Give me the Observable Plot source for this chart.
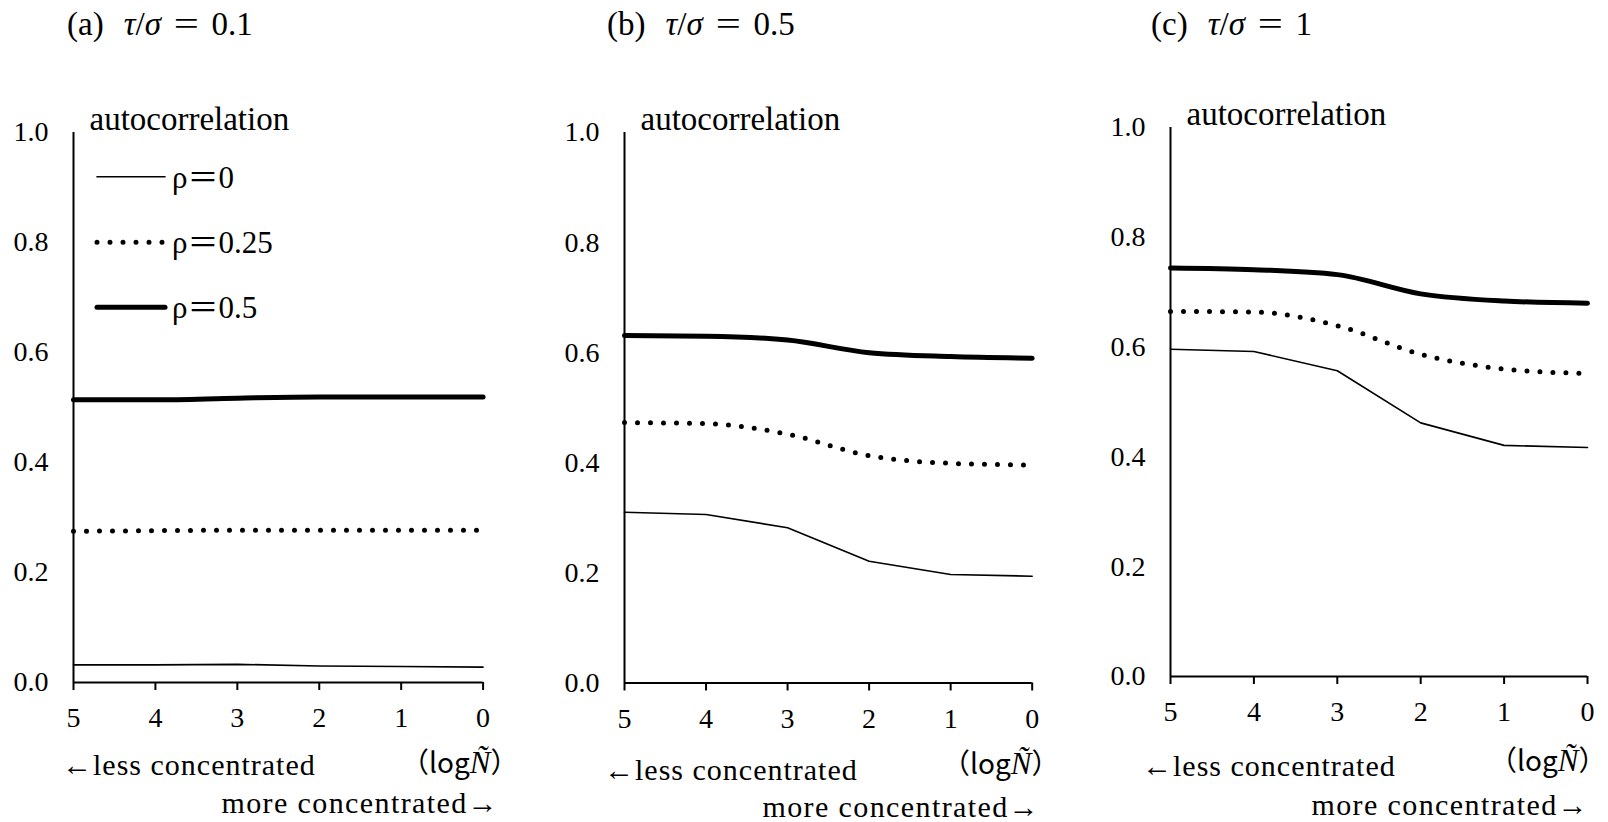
<!DOCTYPE html>
<html>
<head>
<meta charset="utf-8">
<script src="https://cdn.jsdelivr.net/npm/d3@7"></script>
<script src="https://cdn.jsdelivr.net/npm/@observablehq/plot@0.6"></script>
<style>
  html, body { margin: 0; padding: 0; background: #fff; }
  #root { position: relative; width: 1608px; height: 822px; overflow: hidden; background: #fff; color: #000;
          font-family: "Liberation Serif", "Noto Sans CJK JP", serif; }
  .abs { position: absolute; white-space: nowrap; line-height: 1; transform: translateY(-50%); }
  .title { font-size: 33px; }
  .title span { display: inline-block; }
  .note { font-size: 30px; letter-spacing: 1px; }
  .note.more { letter-spacing: 1.4px; }
  .logn { font-family: "Noto Sans CJK JP", "Noto Sans", sans-serif; font-size: 28px; }
  .logn i { font-family: "Liberation Serif", serif; font-size: 31px; }
  .panel { position: absolute; }
</style>
</head>
<body>
<div id="root"></div>
<script>
// ---- data ----
const logN = [5, 4, 3, 2, 1, 0];
const yTicks = [0, 0.2, 0.4, 0.6, 0.8, 1.0];
const seriesNames = ["ρ＝0", "ρ＝0.25", "ρ＝0.5"];
const panelTitles = ["(a)", "(b)", "(c)"];
const tauSigma = ["0.1", "0.5", "1"];

const panelA_rho0   = [0.032, 0.032, 0.033, 0.030, 0.029, 0.028];
const panelA_rho025 = [0.275, 0.276, 0.277, 0.277, 0.277, 0.277];
const panelA_rho05  = [0.514, 0.514, 0.517, 0.519, 0.519, 0.519];

const panelB_rho0   = [0.310, 0.306, 0.282, 0.221, 0.197, 0.194];
const panelB_rho025 = [0.473, 0.471, 0.452, 0.413, 0.399, 0.396];
const panelB_rho05  = [0.631, 0.630, 0.623, 0.600, 0.593, 0.590];

const panelC_rho0   = [0.596, 0.592, 0.557, 0.462, 0.421, 0.417];
const panelC_rho025 = [0.665, 0.664, 0.639, 0.587, 0.560, 0.552];
const panelC_rho05  = [0.744, 0.741, 0.732, 0.697, 0.684, 0.680];

const panelSeries = [
  [panelA_rho0, panelA_rho025, panelA_rho05],
  [panelB_rho0, panelB_rho025, panelB_rho05],
  [panelC_rho0, panelC_rho025, panelC_rho05]
];

// ---- layout (page pixels) ----
const layout = [
  {x0: 72.7,  x1: 482.3,  yTop: 131.7, yBot: 681.7, mr: 40, titleX: 67,   less: [62, 765],  logn: [417, 762], more: [499, 803]},
  {x0: 624.3, x1: 1032,   yTop: 132,   yBot: 682.5, mr: 40, titleX: 607,  less: [604, 770], logn: [958, 763], more: [1040, 807]},
  {x0: 1170.3,x1: 1587.3, yTop: 127,   yBot: 676,   mr: 20, titleX: 1151, less: [1142, 766],logn: [1505, 760], more: [1589, 805]}
];
const ML = 72, MT = 40, MB = 60;
const serif = "'Liberation Serif', 'Noto Sans CJK JP', serif";

const root = document.getElementById("root");

function addText(cls, html, left, top, right) {
  const d = document.createElement("div");
  d.className = "abs " + cls;
  d.innerHTML = html;
  d.style.top = top + "px";
  d.style.left = left + "px";
  if (right) d.style.transform = "translate(-100%, -50%)";
  root.appendChild(d);
  return d;
}

layout.forEach((L, i) => {
  const [s0, s25, s5] = panelSeries[i];
  const d0 = logN.map((x, k) => ({x, y: s0[k]}));
  const d25 = logN.map((x, k) => ({x, y: s25[k]}));
  const d5 = logN.map((x, k) => ({x, y: s5[k]}));
  const innerW = L.x1 - L.x0, innerH = L.yBot - L.yTop;
  const chart = Plot.plot({
    width: ML + innerW + L.mr,
    height: MT + innerH + MB,
    marginLeft: ML, marginRight: L.mr, marginTop: MT, marginBottom: MB,
    x: {domain: [5, 0]},
    y: {domain: [0, 1]},
    style: {fontFamily: serif, fontSize: "28px", color: "#000", background: "transparent", overflow: "visible"},
    marks: [
      Plot.axisY(yTicks, {tickSize: 0, tickPadding: 25, tickFormat: d => d.toFixed(1), fontSize: 28, label: null}),
      Plot.axisX(logN, {tickSize: 8, tickPadding: 17, strokeWidth: 2, fontSize: 28, label: null}),
      Plot.ruleX([5], {strokeWidth: 2}),
      Plot.ruleY([0], {strokeWidth: 2}),
      Plot.line(d0, {x: "x", y: "y", stroke: "#000", strokeWidth: 1.6}),
      Plot.line(d25, {x: "x", y: "y", stroke: "#000", strokeWidth: 5, strokeDasharray: "0 13", strokeLinecap: "round", curve: "monotone-x"}),
      Plot.line(d5, {x: "x", y: "y", stroke: "#000", strokeWidth: 5, curve: "monotone-x"}),
      Plot.text(["autocorrelation"], {frameAnchor: "top-left", dx: 16, dy: -13, textAnchor: "start", lineAnchor: "middle", fontSize: 33})
    ]
  });
  const wrap = document.createElement("div");
  wrap.className = "panel";
  wrap.style.left = (L.x0 - ML) + "px";
  wrap.style.top = (L.yTop - MT) + "px";
  wrap.appendChild(chart);
  root.appendChild(wrap);

  addText("title",
    `<span>${panelTitles[i]}</span><span style="margin-left:20px"><i>τ</i>/<i>σ</i></span>` +
    `<span style="margin-left:16px;transform:scaleX(1.35)">=</span><span style="margin-left:16px">${tauSigma[i]}</span>`,
    L.titleX, 24);
  addText("note", "←less concentrated", L.less[0], L.less[1]);
  addText("logn", "（log<i>N&#x0303;</i>）", L.logn[0] - 16, L.logn[1]);
  addText("note more", "more concentrated→", L.more[0], L.more[1], true);
});

// ---- legend in panel (a) ----
const legendItems = [
  {name: seriesNames[0], width: 1.6, dash: null, y: 176.7},
  {name: seriesNames[1], width: 5, dash: "0 13", y: 242.3},
  {name: seriesNames[2], width: 5, dash: null, y: 307.3}
];
const lg = d3.select(root).append("svg")
  .attr("width", 300).attr("height", 200)
  .style("position", "absolute").style("left", "0px").style("top", "140px").style("overflow", "visible");
legendItems.forEach(it => {
  lg.append("line").attr("x1", 97).attr("x2", 165).attr("y1", it.y - 140).attr("y2", it.y - 140)
    .attr("stroke", "#000").attr("stroke-width", it.width).attr("stroke-linecap", "round")
    .attr("stroke-dasharray", it.dash);
  lg.append("text").attr("x", 172).attr("y", it.y - 140).attr("dy", "0.35em")
    .style("font-family", serif).style("font-size", "31px").text(it.name);
});
</script>
</body>
</html>
